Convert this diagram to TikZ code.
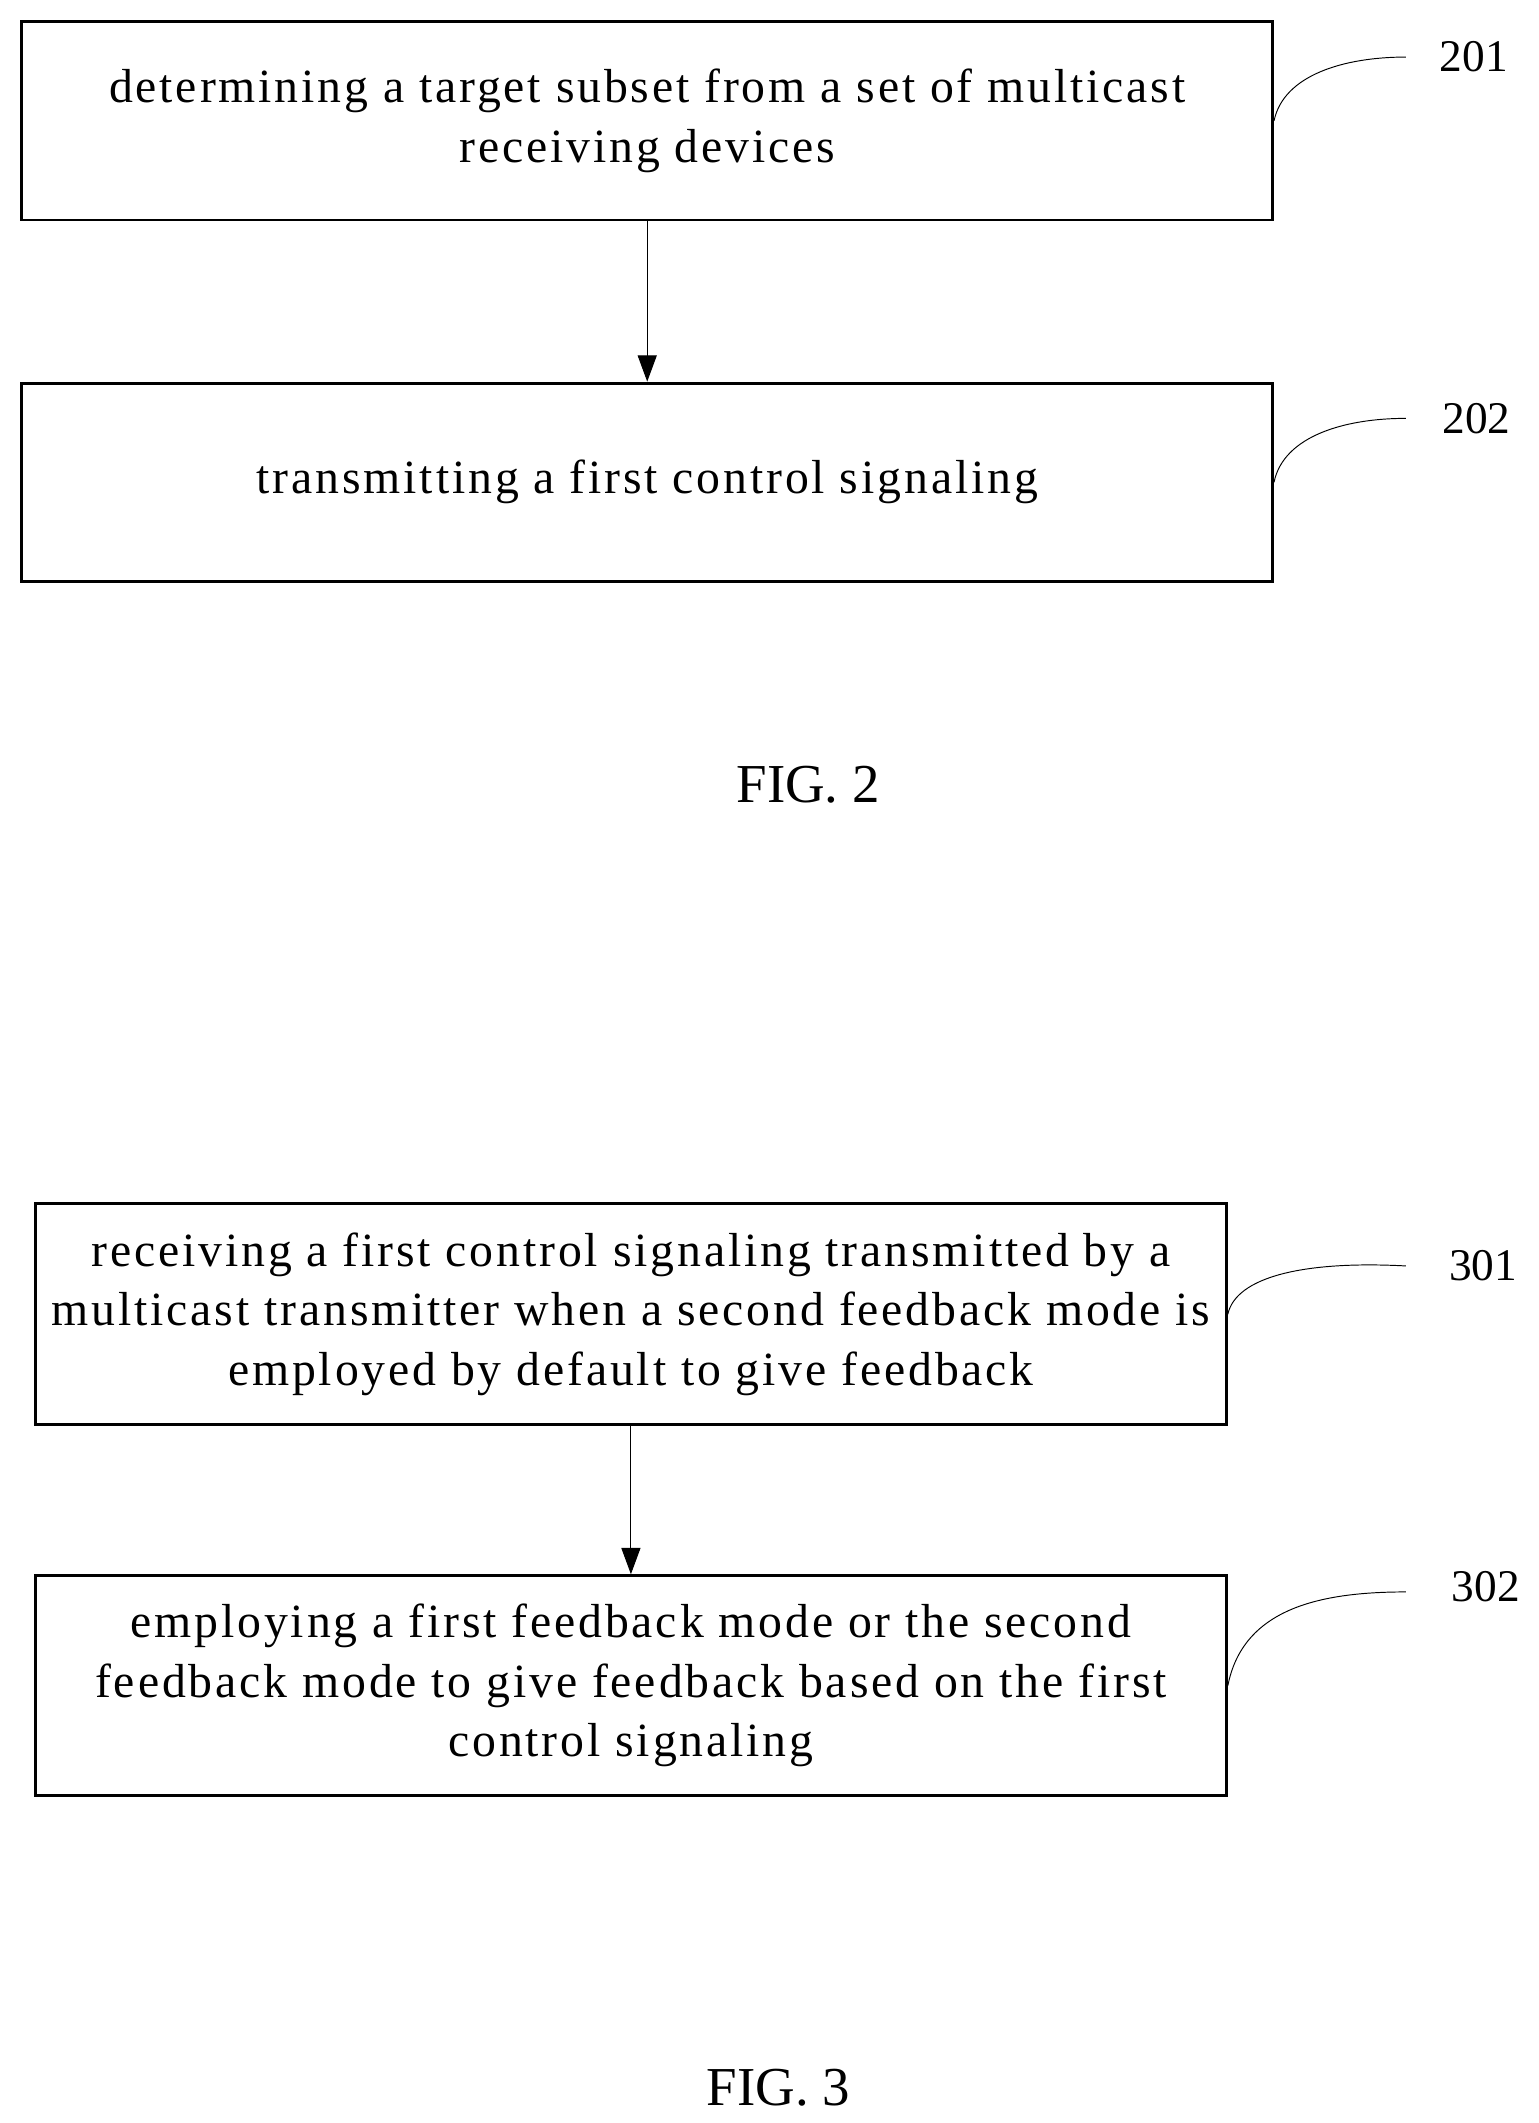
\documentclass[tikz,border=0pt]{standalone}
\usepackage{fontspec}
\setmainfont{Liberation Serif}
\newfontfamily\spacedfont[LetterSpace=6]{Liberation Serif}
\usetikzlibrary{positioning,arrows.meta}
\tikzset{
x=0.02cm, y=-0.02cm,
>={Triangle[length=11pt,width=8pt]},
line width=1.2pt,
stepbox/.style={draw, line width=1.2pt, align=center, font=\spacedfont\fontsize{20}{25}\selectfont, inner sep=0pt},
num/.style={font=\fontsize{19}{22}\selectfont},
fig/.style={font=\fontsize{23}{26}\selectfont},
}

\begin{document}
\begin{tikzpicture}
    \useasboundingbox (0,0) rectangle (1133,1563);
    % FIG. 2
    \node[stepbox, minimum width=18.42cm, minimum height=2.92cm] (s201) at (476.5,89) {determining a target subset from a set of multicast\\receiving devices};
    \node[stepbox, minimum width=18.42cm, minimum height=2.92cm] (s202) at (476.5,355) {transmitting a first control signaling};
    \node[num] (n201) at (1085,42) {201};
    \node[num] (n202) at (1087,308) {202};
    \node[fig] (f2) at (595,578) {FIG. 2};
    \draw[->] (s201) -- (s202);
    \draw (s201.east) .. controls (945,55) and (990,42) .. (1035,42);
    \draw (s202.east) .. controls (945,321) and (990,308) .. (1035,308);

    % FIG. 3
    \node[stepbox, minimum width=17.54cm, minimum height=3.26cm] (s301) at (464.5,967.5) {receiving a first control signaling transmitted by a\\multicast transmitter when a second feedback mode is\\employed by default to give feedback};
    \node[stepbox, minimum width=17.54cm, minimum height=3.24cm] (s302) at (464.5,1241) {employing a first feedback mode or the second\\feedback mode to give feedback based on the first\\control signaling};
    \node[num] (n301) at (1092,932) {301};
    \node[num] (n302) at (1094,1168) {302};
    \node[fig] (f3) at (573,1537) {FIG. 3};
    \draw[->] (s301) -- (s302);
    \draw (s301.east) .. controls (910,940) and (960,928) .. (1035,932);
    \draw (s302.east) .. controls (915,1185) and (970,1172) .. (1035,1172);
\end{tikzpicture}
\end{document}
